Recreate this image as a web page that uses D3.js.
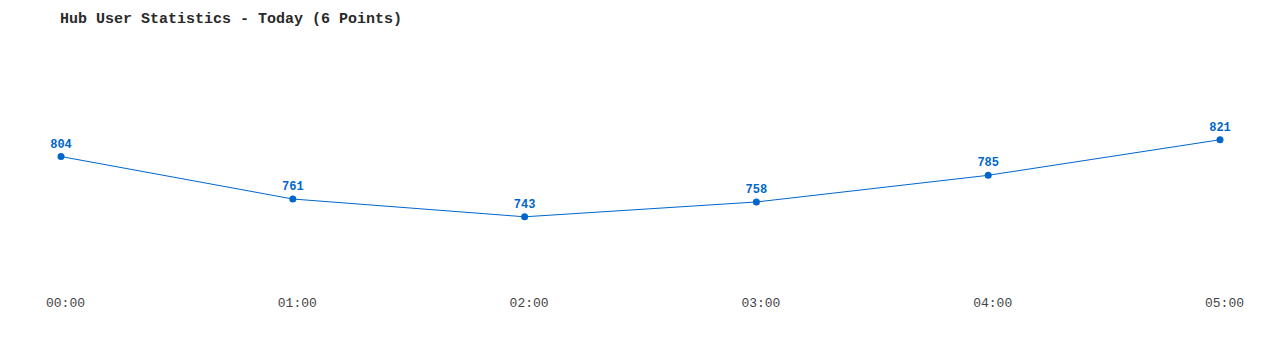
<!DOCTYPE html>
<html>
<head>
<meta charset="utf-8">
<script src="https://cdn.jsdelivr.net/npm/d3@7"></script>
<style>
  body { margin: 0; background: #fff; }
  #MyGraph { display: block; }
</style>
</head>
<body>
<svg id="MyGraph" width="1280" height="350"></svg>
<script>
var titleText = "Hub User Statistics - Today (6 Points)";
var hours = ["00:00", "01:00", "02:00", "03:00", "04:00", "05:00"];
var users = [804, 761, 743, 758, 785, 821];

var margin = {top: 40, right: 60, bottom: 70, left: 61};
var width = 1280 - margin.left - margin.right;
var height = 350 - margin.top - margin.bottom;

var root = d3.select("#MyGraph");

// タイトル
root.append("text")
    .attr("x", 60).attr("y", 23)
    .style("font-family", "'Liberation Mono', 'DejaVu Sans Mono', monospace")
    .style("font-size", "15px")
    .style("font-weight", "bold")
    .attr("fill", "#2a2a2a")
    .text(titleText);

var svg = root.append("g")
    .attr("transform", "translate(" + margin.left + "," + margin.top + ")");

var x_scale = d3.scalePoint()
    .domain(hours)
    .range([0, 1220 - margin.left]);

var y_scale = d3.scaleLinear()
    .domain([679, 922])
    .range([height, 0]);

var data = hours.map(function(h, i){ return {hour: h, value: users[i]}; });

var line = d3.line()
    .x(function(d){ return x_scale(d.hour); })
    .y(function(d){ return y_scale(d.value); });

svg.append("path")
    .datum(data)
    .attr("fill", "none")
    .attr("stroke", "#0066cc")
    .attr("stroke-width", 1)
    .attr("d", line);

svg.selectAll("circle.pt")
    .data(data)
    .enter()
    .append("circle")
    .attr("class", "pt")
    .attr("r", 3.5)
    .attr("fill", "#0066cc")
    .attr("cx", function(d){ return x_scale(d.hour); })
    .attr("cy", function(d){ return y_scale(d.value); });

svg.selectAll("text.val")
    .data(data)
    .enter()
    .append("text")
    .attr("class", "val")
    .attr("text-anchor", "middle")
    .attr("x", function(d){ return x_scale(d.hour); })
    .attr("y", function(d){ return y_scale(d.value) - 9; })
    .style("font-family", "'Liberation Mono', 'DejaVu Sans Mono', monospace")
    .style("font-size", "12px")
    .style("font-weight", "bold")
    .attr("fill", "#0066cc")
    .text(function(d){ return d.value; });

// X軸
var xAxis = svg.append("g")
    .attr("transform", "translate(0," + (height + 18) + ")")
    .call(d3.axisBottom(x_scale).tickSize(0).tickPadding(0));
xAxis.select(".domain").remove();
xAxis.selectAll("text")
    .attr("dx", 4)
    .style("font-family", "'Liberation Mono', 'DejaVu Sans Mono', monospace")
    .style("font-size", "13px")
    .attr("fill", "#444");
</script>
</body>
</html>
